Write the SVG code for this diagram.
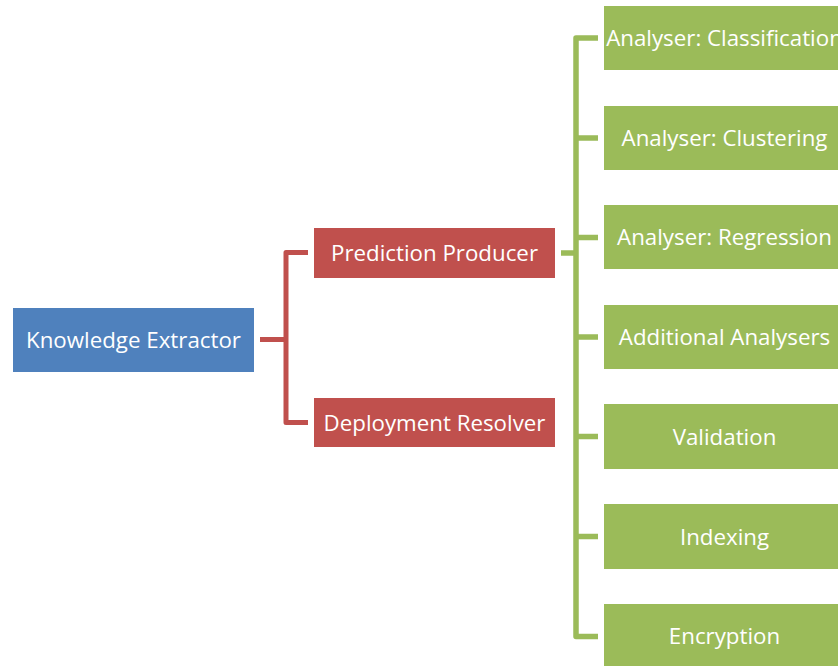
<svg xmlns="http://www.w3.org/2000/svg" width="838" height="666" viewBox="0 0 838 666">
<style>
.t{font-family:"Open Sans","Noto Sans","Liberation Sans",sans-serif;font-size:22.3px;fill:#fff;text-anchor:middle}
.blue{fill:#4F81BD}
.red{fill:#C0504D}
.green{fill:#9BBB59}
.cr{fill:none;stroke:#C0504D;stroke-width:5;stroke-linejoin:round}
.cg{fill:none;stroke:#9BBB59;stroke-width:5.5;stroke-linejoin:round}
</style>
<rect width="838" height="666" fill="#fff"/>
<g id="connectors">
<path class="cr" d="M260,339.5 H286"/>
<path class="cr" d="M308,252.5 H286 V422.5 H308"/>
<path class="cg" d="M561,253 H576"/>
<path class="cg" d="M598,38 H576 V636.5 H598"/>
<path class="cg" d="M576,138 H598 M576,237.5 H598 M576,337 H598 M576,436.5 H598 M576,536.5 H598"/>
</g>
<g id="knowledge-extractor"><rect class="blue" x="13" y="308" width="241" height="64"/><text class="t" x="133.5" y="348">Knowledge Extractor</text></g>
<g id="prediction-producer"><rect class="red" x="314" y="228" width="241" height="50"/><text class="t" x="434.5" y="261">Prediction Producer</text></g>
<g id="deployment-resolver"><rect class="red" x="314" y="398" width="241" height="49"/><text class="t" x="434.5" y="430.5">Deployment Resolver</text></g>
<g id="classification"><rect class="green" x="604" y="6" width="241" height="64"/><text class="t" x="724.5" y="46">Analyser: Classification</text></g>
<g id="clustering"><rect class="green" x="604" y="106" width="241" height="64"/><text class="t" x="724.5" y="146">Analyser: Clustering</text></g>
<g id="regression"><rect class="green" x="604" y="205" width="241" height="64"/><text class="t" x="724.5" y="245">Analyser: Regression</text></g>
<g id="additional"><rect class="green" x="604" y="305" width="241" height="64"/><text class="t" x="724.5" y="345">Additional Analysers</text></g>
<g id="validation"><rect class="green" x="604" y="404" width="241" height="65"/><text class="t" x="724.5" y="444.5">Validation</text></g>
<g id="indexing"><rect class="green" x="604" y="504" width="241" height="65"/><text class="t" x="724.5" y="544.5">Indexing</text></g>
<g id="encryption"><rect class="green" x="604" y="604" width="241" height="64"/><text class="t" x="724.5" y="644">Encryption</text></g>
</svg>
